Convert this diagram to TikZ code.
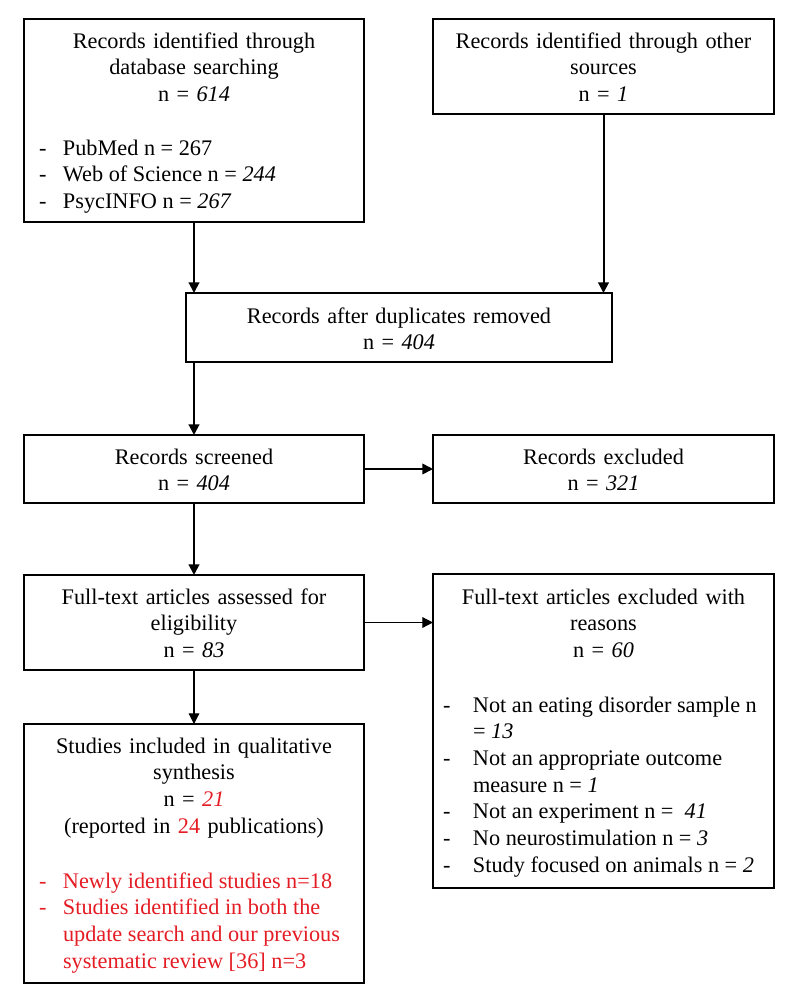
\documentclass[tikz,border=0pt]{standalone}
\usepackage{fontspec}
\setmainfont{Liberation Serif}
\usetikzlibrary{arrows.meta}
\definecolor{flowred}{RGB}{228,28,36}

\begin{document}
\begin{tikzpicture}[x=0.75pt, y=-0.75pt,
	every node/.style={font=\fontsize{16.7}{20}\selectfont, inner sep=0pt, outer sep=0pt},
	stage/.style 2 args={draw, line width=1.3pt, minimum width=#1*0.75pt, minimum height=#2*0.75pt, anchor=north west},
	title/.style={anchor=base, align=center, text width=330*0.75pt},
	items/.style={anchor=base west},
	flow/.style={line width=1.5pt, -{Triangle[length=8pt, width=8pt]}},
	thinflow/.style={line width=0.9pt, -{Triangle[length=8pt, width=8pt]}}]
		\useasboundingbox (0,0) rectangle (794,1008);
		
		\foreach \id/\x/\y/\w/\h in {ident/24/19/340/203, other/433/19/341/95, dedup/186/293/426/69, screen/24/435/340/68, excl/433/435/341/68, full/24/575/340/95, fullexcl/433/574/341/314, incl/24/724/340/259}
		{
			\node[stage={\w}{\h}] (\id) at (\x,\y) {};
		}
		
		\node[title] (identtxt) at (194,48) {Records identified through\\database searching\\n = \textit{614}};
		\node[items] (identlist) at (39,155) {\begin{tabular}[t]{@{}p{18pt}@{}l@{}}
			-&PubMed n = 267\\
			-&Web of Science n = \textit{244}\\
			-&PsycINFO n = \textit{267}
		\end{tabular}};
		\node[title] (othertxt) at (603.5,48) {Records identified through other\\sources\\n = \textit{1}};
		\node[title] (deduptxt) at (399,323) {Records after duplicates removed\\n = \textit{404}};
		\node[title] (screentxt) at (194,464) {Records screened\\n = \textit{404}};
		\node[title] (excltxt) at (603.5,464) {Records excluded\\n = \textit{321}};
		\node[title] (fulltxt) at (194,604) {Full-text articles assessed for\\eligibility\\n = \textit{83}};
		\node[title] (fullexcltxt) at (603.5,604) {Full-text articles excluded with\\reasons\\n = \textit{60}};
		\node[items] (fullexcllist) at (443,712) {\begin{tabular}[t]{@{}p{22.5pt}@{}l@{}}
			-&Not an eating disorder sample n\\
			&= \textit{13}\\
			-&Not an appropriate outcome\\
			&measure n = \textit{1}\\
			-&Not an experiment n = \ \textit{41}\\
			-&No neurostimulation n = \textit{3}\\
			-&Study focused on animals n = \textit{2}
		\end{tabular}};
		\node[title] (incltxt) at (194,753) {Studies included in qualitative\\synthesis\\n = \textcolor{flowred}{\textit{21}}\\(reported in \textcolor{flowred}{24} publications)};
		\node[items, text=flowred] (incllist) at (39,888) {\begin{tabular}[t]{@{}p{18pt}@{}l@{}}
			-&Newly identified studies n=18\\
			-&Studies identified in both the\\
			&update search and our previous\\
			&systematic review [36] n=3
		\end{tabular}};
		
		\draw[flow] (ident.south) -- (ident.south |- dedup.north);
		\draw[flow] (other.south) -- (other.south |- dedup.north);
		\draw[flow] (screen.north |- dedup.south) -- (screen.north);
		\draw[flow, line width=1.2pt] (screen.east) -- (excl.west);
		\draw[flow] (screen.south) -- (full.north);
		\draw[thinflow] (full.east) -- (full.east -| fullexcl.west);
		\draw[thinflow] (full.south) -- (incl.north);
	\end{tikzpicture}
\end{document}
